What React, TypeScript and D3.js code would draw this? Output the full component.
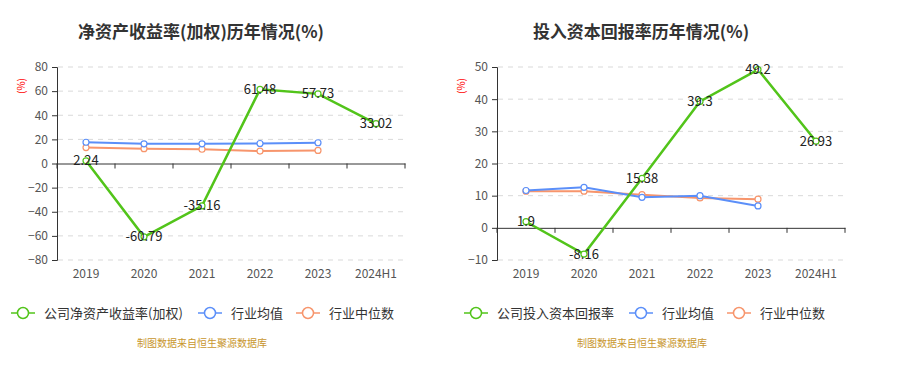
import { useEffect, useRef } from 'react'
import * as d3 from 'd3'

const YEARS = ['2019', '2020', '2021', '2022', '2023', '2024H1']

const ROE_COMPANY = [2.24, -60.79, -35.16, 61.48, 57.73, 33.02]
const ROE_IND_AVG = [17.6, 16.3, 16.3, 16.6, 17.2]
const ROE_IND_MED = [13.2, 12.3, 11.8, 10.3, 10.8]
const ROE_TICKS = [-80, -60, -40, -20, 0, 20, 40, 60, 80]

const ROIC_COMPANY = [1.9, -8.16, 15.38, 39.3, 49.2, 26.93]
const ROIC_IND_AVG = [11.6, 12.6, 9.5, 10.0, 6.8]
const ROIC_IND_MED = [11.4, 11.4, 10.3, 9.3, 8.9]
const ROIC_TICKS = [-10, 0, 10, 20, 30, 40, 50]

const GREEN = '#52c41a'
const BLUE = '#5b8ff9'
const ORANGE = '#f7956c'
const FONT = '"Noto Sans CJK SC", "Noto Sans", sans-serif'

interface PanelCfg {
  left: number
  title: string
  legendName: string
  company: number[]
  avg: number[]
  med: number[]
  ticks: number[]
}

const PANELS: PanelCfg[] = [
  { left: 0, title: '净资产收益率(加权)历年情况(%)', legendName: '公司净资产收益率(加权)', company: ROE_COMPANY, avg: ROE_IND_AVG, med: ROE_IND_MED, ticks: ROE_TICKS },
  { left: 440, title: '投入资本回报率历年情况(%)', legendName: '公司投入资本回报率', company: ROIC_COMPANY, avg: ROIC_IND_AVG, med: ROIC_IND_MED, ticks: ROIC_TICKS },
]

export default function App() {
  const svgRef = useRef<SVGSVGElement>(null)

  useEffect(() => {
    if (!svgRef.current) return
    const svg = d3.select(svgRef.current)
    svg.selectAll('*').remove()

    PANELS.forEach(p => {
      const g = svg.append('g').attr('transform', `translate(${p.left},0)`)
      const x0 = 57, x1 = 405, yTop = 67, yBot = 260

      const x = d3.scaleBand<string>().domain(YEARS).range([x0, x1])
      const y = d3.scaleLinear()
        .domain([p.ticks[0], p.ticks[p.ticks.length - 1]])
        .range([yBot, yTop])
      const cx = (i: number) => x(YEARS[i])! + x.bandwidth() / 2

      // title
      g.append('text')
        .attr('x', 201).attr('y', 38)
        .attr('text-anchor', 'middle')
        .attr('font-family', FONT).attr('font-size', 17).attr('font-weight', 'bold')
        .attr('fill', '#333')
        .text(p.title)

      // unit label
      g.append('text')
        .attr('transform', `translate(25,86) rotate(-90)`)
        .attr('text-anchor', 'middle')
        .attr('font-family', FONT).attr('font-size', 10)
        .attr('fill', 'red')
        .text('(%)')

      // grid
      g.selectAll('line.grid')
        .data(p.ticks.filter(t => t !== 0))
        .join('line')
        .attr('x1', x0 + 1).attr('x2', x1)
        .attr('y1', d => y(d)).attr('y2', d => y(d))
        .attr('stroke', '#d9d9d9').attr('stroke-dasharray', '5,5')

      // y axis
      const yAxis = g.append('g')
        .attr('transform', `translate(${x0},0)`)
        .call(d3.axisLeft(y).tickValues(p.ticks).tickSize(5).tickPadding(4))
      yAxis.select('.domain').attr('stroke', '#333')
      yAxis.selectAll('.tick line').attr('stroke', '#333')
      yAxis.selectAll('.tick text').attr('fill', '#555').attr('font-size', 12).attr('font-family', FONT)

      // x axis at zero
      const xAxis = g.append('g')
        .attr('transform', `translate(0,${y(0)})`)
        .call(d3.axisBottom(x).tickSize(0).tickFormat(() => ''))
      xAxis.select('.domain').attr('stroke', '#333')
      xAxis.selectAll('.tick').remove()
      g.selectAll('line.xtick')
        .data(d3.range(YEARS.length + 1))
        .join('line')
        .attr('x1', i => x0 + i * x.bandwidth()).attr('x2', i => x0 + i * x.bandwidth())
        .attr('y1', y(0)).attr('y2', y(0) + 5)
        .attr('stroke', '#333')

      // x labels at bottom
      g.selectAll('text.xl')
        .data(YEARS)
        .join('text')
        .attr('x', (_, i) => cx(i)).attr('y', 278)
        .attr('text-anchor', 'middle')
        .attr('font-family', FONT).attr('font-size', 12).attr('fill', '#555')
        .text(d => d)

      const line = d3.line<number>().x((_, i) => cx(i)).y(d => y(d))

      const series = [
        { data: p.med, color: ORANGE, width: 2 },
        { data: p.avg, color: BLUE, width: 2 },
        { data: p.company, color: GREEN, width: 2.5 },
      ]
      series.forEach(s => {
        g.append('path').datum(s.data)
          .attr('fill', 'none').attr('stroke', s.color).attr('stroke-width', s.width)
          .attr('d', line)
        g.selectAll(null)
          .data(s.data)
          .join('circle')
          .attr('cx', (_, i) => cx(i)).attr('cy', d => y(d))
          .attr('r', 3)
          .attr('fill', '#fff').attr('stroke', s.color).attr('stroke-width', 1.2)
      })

      // value labels
      g.selectAll(null)
        .data(p.company)
        .join('text')
        .attr('x', (_, i) => cx(i)).attr('y', d => y(d))
        .attr('dy', '0.35em')
        .attr('text-anchor', 'middle')
        .attr('font-family', FONT).attr('font-size', 13).attr('fill', '#222')
        .text(d => String(d))

      // legend
      const legend = [
        { name: p.legendName, color: GREEN, x: 11 },
        { name: '行业均值', color: BLUE, x: 198 },
        { name: '行业中位数', color: ORANGE, x: 296 },
      ]
      legend.forEach((l, i) => {
        const lx = l.x + (p.left ? [13, -9, -9][i] : 0) + (p.left ? 0 : 0)
        const lg = g.append('g').attr('transform', `translate(${lx},313)`)
        lg.append('line').attr('x1', 0).attr('x2', 24).attr('y1', 0).attr('y2', 0)
          .attr('stroke', l.color).attr('stroke-width', 1.5)
        lg.append('circle').attr('cx', 12).attr('cy', 0).attr('r', 5.5)
          .attr('fill', '#fff').attr('stroke', l.color).attr('stroke-width', 1.5)
        lg.append('text').attr('x', 33).attr('y', 0).attr('dy', '0.35em')
          .attr('font-family', FONT).attr('font-size', 13).attr('fill', '#333')
          .text(l.name)
      })

      // source
      g.append('text')
        .attr('x', 202).attr('y', 347)
        .attr('text-anchor', 'middle')
        .attr('font-family', FONT).attr('font-size', 10).attr('fill', '#c8962d')
        .text('制图数据来自恒生聚源数据库')
    })
  }, [])

  return (
    <svg ref={svgRef} width={903} height={368}
      style={{ position: 'absolute', left: 0, top: 0, background: '#fff' }} />
  )
}
